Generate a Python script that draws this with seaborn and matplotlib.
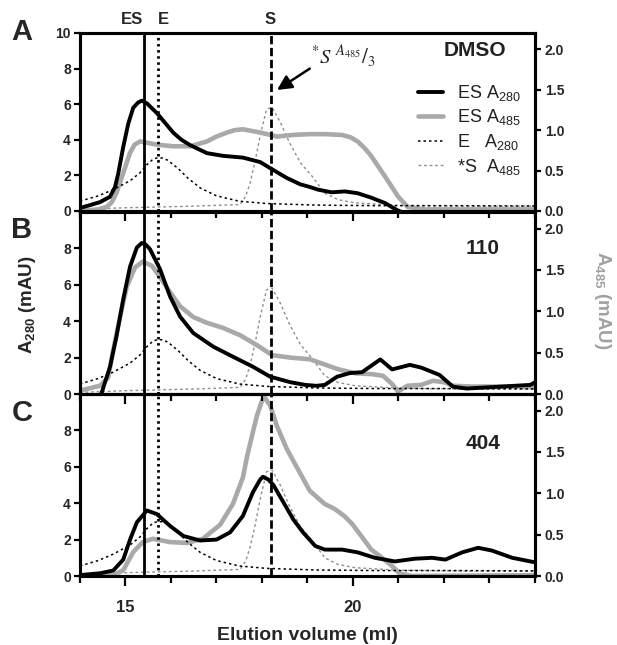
import numpy as np
import pandas as pd
import matplotlib
matplotlib.use("Agg")
import matplotlib.pyplot as plt
import seaborn as sns
from matplotlib.ticker import MultipleLocator

# ---------------- data ----------------
# common reference runs
e280_x = [14.0, 14.4, 14.73, 15.1, 15.32, 15.47, 15.6, 15.71, 15.82, 15.93, 16.15, 16.37, 16.64, 17.0, 17.5, 18.1, 19.2, 20.5, 22.0, 24.0]
e280_y = [0.55, 0.85, 1.2, 1.7, 2.15, 2.6, 2.9, 3.0, 2.97, 2.85, 2.4, 1.85, 1.3, 0.85, 0.55, 0.42, 0.33, 0.3, 0.3, 0.28]
s485_x = [14.0, 15.0, 16.5, 17.52, 17.64, 17.74, 17.85, 17.96, 18.1, 18.22, 18.4, 18.6, 18.84, 19.1, 19.38, 19.67, 20.05, 21.0, 22.5, 24.0]
s485_y = [0.02, 0.04, 0.06, 0.08, 0.18, 0.35, 0.62, 0.93, 1.26, 1.28, 1.1, 0.85, 0.6, 0.43, 0.22, 0.14, 0.1, 0.07, 0.06, 0.06]

# panel A: DMSO
a280_x = [14.0, 14.22, 14.44, 14.66, 14.77, 14.84, 14.95, 15.06, 15.17, 15.28, 15.36, 15.47, 15.69, 15.87, 16.05, 16.23,
          16.42, 16.79, 17.14, 17.58, 17.96, 18.25, 18.55, 18.84, 19.05, 19.23, 19.53, 19.82, 20.1, 20.4, 20.7, 20.97,
          21.3, 24.0]
a280_y = [0.17, 0.33, 0.5, 0.8, 1.35, 2.1, 3.6, 4.9, 5.8, 6.1, 6.2, 6.05, 5.5, 4.95, 4.4, 4.0,
          3.7, 3.25, 3.1, 3.0, 2.75, 2.3, 1.85, 1.5, 1.35, 1.2, 1.05, 1.1, 1.0, 0.75, 0.45, 0.05,
          -0.3, -0.3]
a485_x = [14.0, 14.4, 14.59, 14.7, 14.8, 14.95, 15.1, 15.2, 15.32, 15.69, 16.05, 16.42, 16.79, 17.0, 17.23, 17.4, 17.58,
          17.96, 18.33, 18.68, 19.05, 19.38, 19.76, 19.95, 20.1, 20.25, 20.4, 20.7, 20.99, 21.2, 21.58, 24.0]
a485_y = [0.0, 0.02, 0.05, 0.11, 0.22, 0.47, 0.72, 0.82, 0.86, 0.82, 0.8, 0.8, 0.86, 0.92, 0.97, 1.0, 1.01,
          0.97, 0.92, 0.94, 0.95, 0.95, 0.94, 0.91, 0.86, 0.78, 0.68, 0.43, 0.18, 0.05, 0.02, 0.02]

# panel B: 110
b280_x = [14.0, 14.4, 14.48, 14.66, 14.8, 14.95, 15.1, 15.25, 15.36, 15.45, 15.54, 15.76, 15.98, 16.2, 16.49, 16.93, 17.36,
          17.8, 18.18, 18.62, 18.95, 19.2, 19.38, 19.65, 19.93, 20.2, 20.6, 20.86, 21.25, 21.5, 21.9, 22.2, 22.5,
          23.2, 23.9, 24.0]
b280_y = [-0.5, -0.4, 0.1, 1.5, 3.15, 5.2, 7.0, 8.05, 8.3, 8.2, 7.95, 6.85, 5.35, 4.25, 3.35, 2.6, 2.05,
          1.5, 0.95, 0.65, 0.5, 0.45, 0.5, 0.95, 1.15, 1.2, 1.9, 1.35, 1.6, 1.45, 1.05, 0.4, 0.3,
          0.4, 0.5, 0.65]
b485_x = [14.0, 14.44, 14.62, 14.73, 14.88, 15.03, 15.21, 15.38, 15.58, 15.76, 15.98, 16.2, 16.49, 16.79, 17.14, 17.52,
          17.89, 18.22, 18.62, 19.05, 19.31, 19.67, 20.05, 20.42, 20.66, 20.86, 20.99, 21.2, 21.5, 21.76, 22.02, 22.18,
          22.6, 23.5, 24.0]
b485_y = [0.04, 0.1, 0.2, 0.53, 0.93, 1.3, 1.53, 1.6, 1.55, 1.41, 1.23, 1.06, 0.93, 0.86, 0.8, 0.71,
          0.59, 0.47, 0.44, 0.42, 0.37, 0.3, 0.25, 0.24, 0.22, 0.12, 0.03, 0.1, 0.11, 0.16, 0.14, 0.1,
          0.09, 0.09, 0.08]

# panel C: 404
c280_x = [14.0, 14.44, 14.73, 14.95, 15.1, 15.25, 15.47, 15.69, 15.98, 16.27, 16.64, 17.0, 17.3, 17.58, 17.8, 17.96,
          18.02, 18.14, 18.25, 18.47, 18.69, 18.9, 19.17, 19.38, 19.76, 20.1, 20.48, 20.92, 21.36, 21.74, 22.03, 22.4,
          22.75, 23.05, 23.5, 24.0]
c280_y = [0.05, 0.15, 0.3, 0.9, 2.0, 2.95, 3.6, 3.4, 2.75, 2.2, 1.95, 2.0, 2.4, 3.3, 4.6, 5.3,
          5.45, 5.3, 5.0, 4.05, 3.1, 2.4, 1.65, 1.45, 1.45, 1.3, 1.0, 0.8, 0.95, 1.0, 0.9, 1.3,
          1.55, 1.4, 1.0, 0.75]
c485_x = [14.0, 14.73, 14.95, 15.17, 15.38, 15.6, 15.98, 16.35, 16.7, 17.08, 17.36, 17.58, 17.67, 17.8, 17.89, 18.0,
          18.07, 18.18, 18.33, 18.55, 18.84, 19.05, 19.38, 19.6, 19.82, 19.98, 20.2, 20.4, 20.64, 20.86, 21.03, 21.3,
          24.0]
c485_y = [0.0, 0.01, 0.07, 0.29, 0.41, 0.45, 0.41, 0.4, 0.45, 0.62, 0.87, 1.19, 1.44, 1.74, 1.94, 2.12,
          2.15, 2.06, 1.81, 1.53, 1.24, 1.03, 0.87, 0.81, 0.72, 0.63, 0.47, 0.32, 0.22, 0.12, 0.03, 0.0,
          0.01]

panel_letters = ["A", "B", "C"]
panel_names = ["DMSO", "110", "404"]
marker_names = ["ES", "E", "S"]
marker_pos = [15.4, 15.72, 18.2]
left_ticks = [[0, 2, 4, 6, 8, 10], [0, 2, 4, 6, 8], [0, 2, 4, 6, 8]]
right_ticks = [0.0, 0.5, 1.0, 1.5, 2.0]
x_major = [15, 20]
legend_labels = ["ES A$_{280}$", "ES A$_{485}$", "E   A$_{280}$", "*S  A$_{485}$"]

es280 = [(a280_x, a280_y), (b280_x, b280_y), (c280_x, c280_y)]
es485 = [(a485_x, a485_y), (b485_x, b485_y), (c485_x, c485_y)]

# ---------------- style ----------------
sns.set_theme(style="ticks")
plt.rcParams["font.family"] = ["Liberation Sans", "DejaVu Sans"]
plt.rcParams["mathtext.fontset"] = "custom"
plt.rcParams["mathtext.rm"] = "Liberation Sans"
plt.rcParams["mathtext.it"] = "Liberation Sans:italic"
plt.rcParams["mathtext.bf"] = "Liberation Sans:bold"
plt.rcParams["mathtext.default"] = "rm"

GRAY = "#a9a9a9"
SGRAY = "#8f8f8f"

fig = plt.figure(figsize=(6.17, 6.45), dpi=100)
W, H = 617.0, 645.0
L, R = 80, 535
rows = [(33, 211), (212, 394), (394, 576)]
name_pos = [(0.868, 0.899), (0.885, 0.80), (0.885, 0.73)]

for i, (top, bot) in enumerate(rows):
    ax = fig.add_axes([L / W, 1 - bot / H, (R - L) / W, (bot - top) / H])
    ax2 = ax.twinx()
    ax.set_zorder(ax2.get_zorder() + 1)
    ax.patch.set_visible(False)
    ax2.patch.set_visible(False)

    # data lines
    sns.lineplot(x=e280_x, y=e280_y, ax=ax, color="black", lw=1.1, linestyle=(0, (1.6, 2.0)),
                 label=legend_labels[2], sort=False)
    sns.lineplot(x=s485_x, y=s485_y, ax=ax2, color=SGRAY, lw=1.0, linestyle=(0, (2.0, 2.0)),
                 label=legend_labels[3], sort=False)
    sns.lineplot(x=es485[i][0], y=es485[i][1], ax=ax2, color=GRAY, lw=3.3,
                 label=legend_labels[1], sort=False)
    sns.lineplot(x=es280[i][0], y=es280[i][1], ax=ax, color="black", lw=2.8,
                 label=legend_labels[0], sort=False)

    # marker lines
    ax.axvline(marker_pos[0], color="black", lw=2.0, zorder=1)
    ax.axvline(marker_pos[1], color="black", lw=2.0, linestyle=(0, (0.9, 1.3)), zorder=1)
    ax.axvline(marker_pos[2], color="black", lw=2.0, linestyle=(0, (3.0, 1.3)), zorder=1)

    for a in (ax, ax2):
        if a.get_legend() is not None:
            a.get_legend().remove()
        a.set_xlabel("")
        a.set_ylabel("")
        for sp in a.spines.values():
            sp.set_visible(True)
            sp.set_linewidth(2.2)
            sp.set_color("black")

    ax.set_xlim(14, 24)
    ax.set_ylim(0, 10)
    ax2.set_ylim(0, 2.2)

    ax.set_xticks(x_major)
    ax.xaxis.set_minor_locator(MultipleLocator(1))
    ax.tick_params(axis="x", which="major", direction="out", length=7.5, width=1.6, color="black",
                   labelsize=12, pad=10)
    ax.tick_params(axis="x", which="minor", direction="out", length=5.0, width=1.6, color="black")
    if i < 2:
        ax.tick_params(axis="x", labelbottom=False)
    else:
        ax.set_xticklabels([str(v) for v in x_major], fontweight="bold", fontsize=12)

    ax.set_yticks(left_ticks[i])
    ax.set_yticklabels([str(v) for v in left_ticks[i]], fontweight="bold", fontsize=10)
    ax.tick_params(axis="y", direction="out", length=4.5, width=1.6, color="black", pad=2)
    ax2.set_yticks(right_ticks)
    ax2.set_yticklabels([f"{v:.1f}" for v in right_ticks], fontweight="bold", fontsize=10)
    ax2.tick_params(axis="y", direction="out", length=4.0, width=1.6, color="black", pad=3)
    ax2.tick_params(axis="x", bottom=False, labelbottom=False)

    # panel name
    ax.text(name_pos[i][0], name_pos[i][1], panel_names[i], transform=ax.transAxes, ha="center", va="center",
            fontsize=15, fontweight="bold", color="#222222")
    fig.text(22 / W, 1 - [32, 230, 413][i] / H, panel_letters[i], ha="center", va="center",
             fontsize=21, fontweight="bold")

    if i == 0:
        ax.annotate("", xy=(18.33, 6.8), xytext=(19.05, 8.0),
                    arrowprops=dict(arrowstyle="-|>", lw=1.8, color="black", mutation_scale=22,
                                    shrinkA=0, shrinkB=0))
        ax.text(19.08, 8.7, r"$^{*}\mathit{S}\ {}^{\mathit{A}_{485}}/_{3}$", fontsize=15, ha="left",
                va="center", math_fontfamily="stix")
        h1, l1 = ax.get_legend_handles_labels()
        h2, l2 = ax2.get_legend_handles_labels()
        hd = dict(zip(l1 + l2, h1 + h2))
        leg = ax.legend([hd[k] for k in legend_labels], legend_labels, loc="upper left",
                        bbox_to_anchor=(0.722, 0.77), frameon=False, fontsize=13,
                        handlelength=1.4, handletextpad=0.8, labelspacing=0.25, borderpad=0)
        for tx in leg.get_texts():
            tx.set_color("#222222")

# marker labels above panel A
for name, pos_px in zip(marker_names, [132, 163, 270]):
    fig.text(pos_px / W, 1 - 20 / H, name, ha="center", va="center", fontsize=12, fontweight="bold")

fig.text(28 / W, 1 - 305 / H, r"A$_{\mathbf{280}}$ (mAU)", rotation=90, ha="center", va="center",
         fontsize=13.5, fontweight="bold")
fig.text(602 / W, 1 - 300 / H, r"A$_{\mathbf{485}}$ (mAU)", rotation=270, ha="center", va="center",
         fontsize=13.5, fontweight="bold", color="#a0a0a0")
fig.text(307 / W, 1 - 635 / H, "Elution volume (ml)", ha="center", va="center",
         fontsize=14, fontweight="bold")

fig.savefig("out.png", dpi=100, facecolor="white")
